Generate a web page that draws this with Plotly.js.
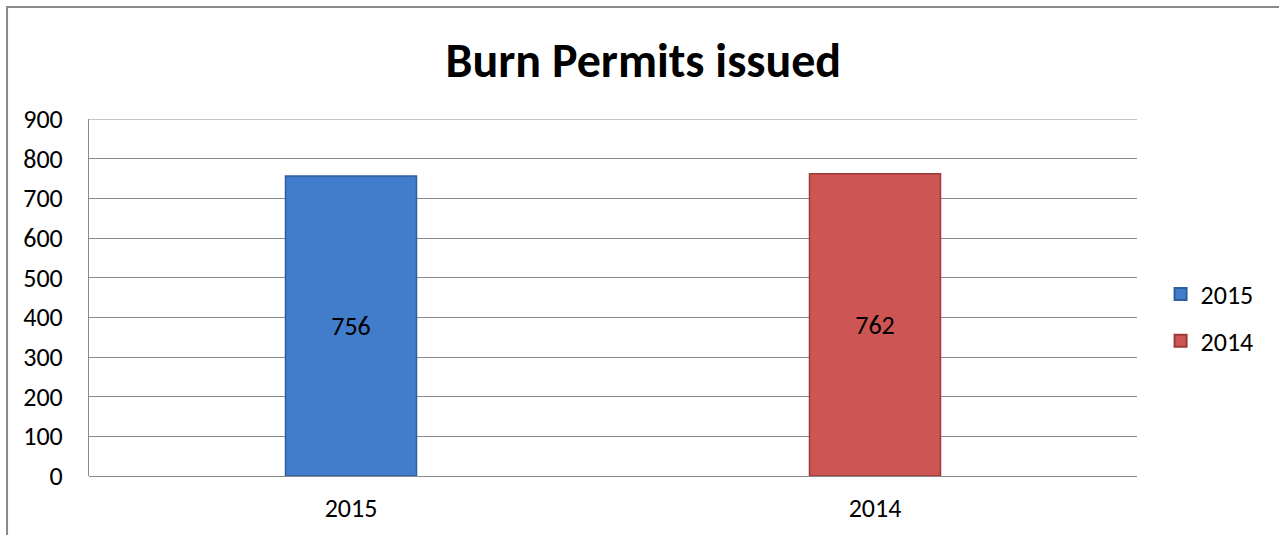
<!DOCTYPE html>
<html><head><meta charset="utf-8">
<script src="https://cdn.plot.ly/plotly-3.0.1.min.js"></script>
<style>body{margin:0;background:#fff}#chart{width:1279px;height:535px}</style>
</head><body><div id="chart"></div>
<script>
const categories = ["2015", "2014"];
const seriesNames = ["2015", "2014"];
const values2015 = [756, null];
const values2014 = [null, 762];
const yTicks = [0, 100, 200, 300, 400, 500, 600, 700, 800, 900];

const FONT = "Carlito, Calibri, Lato, 'Open Sans', sans-serif";
const FS = 26;
const mk = (name, vals, fill, line, grp) => ({
  type: 'bar', name: name, x: categories, y: vals, legendgroup: grp,
  marker: {color: fill, line: {color: line, width: 1.5}},
  width: 0.25,
  text: vals.map(v => v == null ? '' : String(v)),
  textposition: 'inside', insidetextanchor: 'middle',
  textfont: {family: FONT, size: FS, color: '#000'},
  hoverinfo: 'skip'
});
const data = [
  mk(seriesNames[0], values2015, '#417DCB', '#2F5E9A', 'a'),
  mk(seriesNames[1], values2014, '#CD5553', '#9A3B39', 'b')
];
const layout = {
  width: 1279, height: 535,
  margin: {l: 89, r: 142, t: 119, b: 59, pad: 0},
  paper_bgcolor: '#fff', plot_bgcolor: '#fff',
  barmode: 'overlay',
  font: {family: FONT, size: FS, color: '#000'},
  title: {text: '<b>Burn Permits issued</b>', x: 0.503, xanchor: 'center', y: 0.888, yanchor: 'middle',
          font: {family: FONT, size: 48, color: '#000'}},
  xaxis: {type: 'category', showgrid: false, zeroline: false, showline: false,
          ticks: '', tickfont: {family: FONT, size: FS}, ticklabelstandoff: 14},
  yaxis: {range: [0, 900], tickvals: yTicks, showgrid: true, gridcolor: '#8a8a8a', gridwidth: 1,
          zeroline: true, zerolinecolor: '#8a8a8a', zerolinewidth: 1,
          showline: true, linecolor: '#8a8a8a', linewidth: 1, ticks: '',
          tickfont: {family: FONT, size: FS}, ticklabelstandoff: 20},
  showlegend: true,
  legend: {x: 1.0225, xanchor: 'left', y: 0.444, yanchor: 'middle',
           font: {family: FONT, size: FS}, itemsizing: 'constant', tracegroupgap: 10,
           bgcolor: 'rgba(0,0,0,0)'},
  shapes: [
    {type: 'rect', xref: 'paper', yref: 'paper',
     x0: -0.0782, x1: 1.2, y0: -0.3, y1: 1.3137,
     line: {color: '#8a8a8a', width: 2}, fillcolor: 'rgba(0,0,0,0)', layer: 'below'},
    {type: 'line', xref: 'paper', yref: 'y', x0: 0, x1: 1, y0: yTicks[yTicks.length - 1], y1: yTicks[yTicks.length - 1],
     line: {color: '#8a8a8a', width: 1}, layer: 'below'}
  ]
};
Plotly.newPlot('chart', data, layout, {displayModeBar: false, staticPlot: true});
</script></body></html>
